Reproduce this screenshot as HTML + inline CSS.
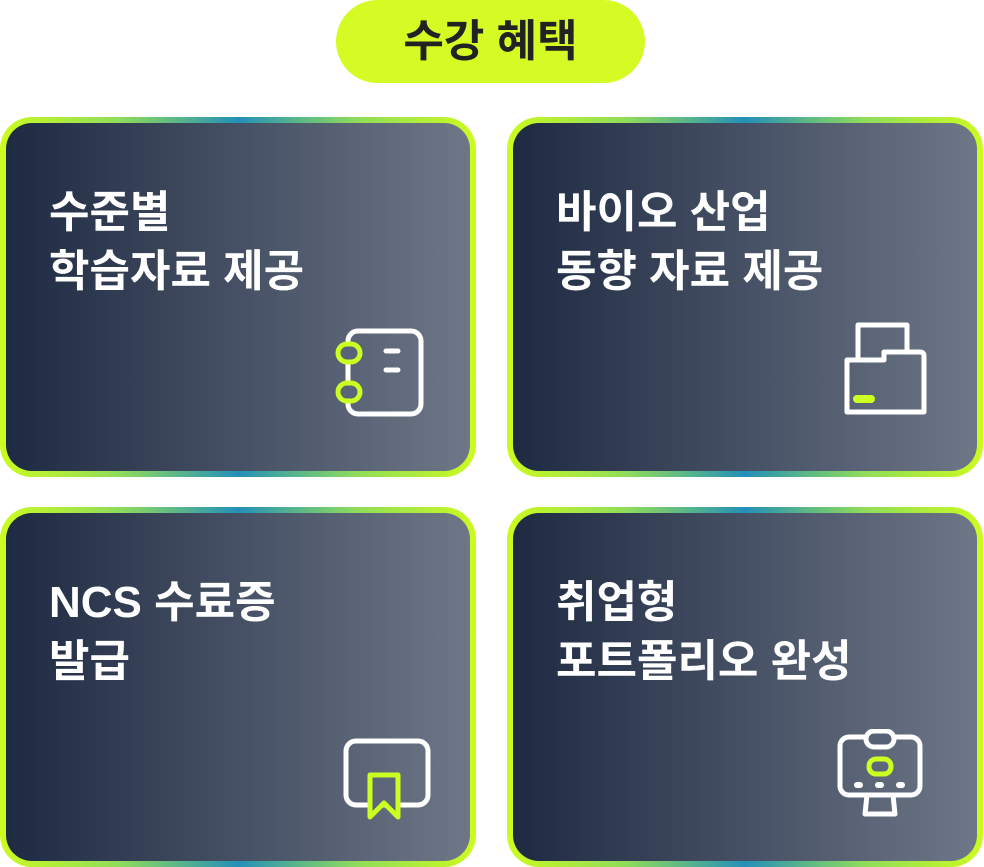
<!DOCTYPE html>
<html><head><meta charset="utf-8"><style>
body{margin:0;width:984px;height:867px;background:#fff;position:relative;overflow:hidden;font-family:"Liberation Sans","Noto Sans CJK KR",sans-serif}
.pill{position:absolute;left:336px;top:0;width:309px;height:83px;border-radius:42px;background:#d4fc24;color:#222;font-weight:700;font-size:44px;line-height:83px;text-align:center}
.card{position:absolute;width:476px;height:360px;border-radius:32px;background:linear-gradient(to right,#ccfb20 0%,#8fdc5a 25%,#2490b8 50%,#8fdc5a 75%,#ccfb20 100%)}
.in{position:absolute;left:6px;top:6px;right:6px;bottom:6px;border-radius:26px;background:linear-gradient(to right,#1e2a42,#6e7787)}
.t{position:absolute;left:43px;top:60px;color:#fff;font-weight:700;font-size:44px;line-height:59px;white-space:nowrap}
svg{position:absolute}
</style></head><body>
<div class="pill">수강 혜택</div>

<div class="card" style="left:0;top:117px"><div class="in"><div class="t">수준별<br>학습자료 제공</div></div>
<svg style="left:330px;top:208px" width="100" height="95" viewBox="0 0 100 95" fill="none" stroke-width="5" stroke-linecap="round">
<rect x="18" y="6" width="73" height="83" rx="10" stroke="#fff"/>
<line x1="56" y1="26" x2="68" y2="26" stroke="#fff"/><line x1="56" y1="45" x2="68" y2="45" stroke="#fff"/>
<rect x="8" y="19" width="22" height="18" rx="9" stroke="#ccff22" fill="#5a6478"/>
<rect x="8" y="58" width="22" height="18" rx="9" stroke="#ccff22" fill="#5a6478"/>
</svg></div>

<div class="card" style="left:507px;top:117px"><div class="in"><div class="t">바이오 산업<br>동향 자료 제공</div></div>
<svg style="left:335px;top:205px" width="90" height="100" viewBox="0 0 90 100" fill="none" stroke-width="5" stroke-linejoin="round" stroke-linecap="round">
<path d="M16 36 V3 H65 V28" stroke="#fff"/>
<path d="M5 38 H42 V30 H78 Q82 30 82 34 V90 H5 Z" stroke="#fff"/>
<line x1="15" y1="77" x2="29" y2="77" stroke="#ccff22" stroke-width="8"/>
</svg></div>

<div class="card" style="left:0;top:507px"><div class="in"><div class="t">NCS 수료증<br>발급</div></div>
<svg style="left:340px;top:230px" width="95" height="90" viewBox="0 0 95 90" fill="none" stroke-width="5" stroke-linejoin="round">
<rect x="6" y="4" width="82" height="64" rx="10" stroke="#fff"/>
<path d="M30 38 V80 L44 66 L58 80 V38 Z" stroke="#ccff22" fill="#5d6779"/>
</svg></div>

<div class="card" style="left:507px;top:507px"><div class="in"><div class="t">취업형<br>포트폴리오 완성</div></div>
<svg style="left:330px;top:222px" width="90" height="90" viewBox="0 0 90 90" fill="none" stroke-width="5" stroke-linejoin="round" stroke-linecap="round">
<rect x="3" y="8" width="80" height="58" rx="9" stroke="#fff"/>
<rect x="29" y="2" width="28" height="16" rx="8" stroke="#fff" fill="#586276"/>
<rect x="32" y="30" width="22" height="15" rx="7" stroke="#ccff22"/>
<line x1="20" y1="56" x2="23" y2="56" stroke="#fff" stroke-width="6"/><line x1="41" y1="56" x2="44" y2="56" stroke="#fff" stroke-width="6"/><line x1="62" y1="56" x2="65" y2="56" stroke="#fff" stroke-width="6"/>
<path d="M30 66 L28 85 H58 L56 66" stroke="#fff"/>
</svg></div>
</body></html>
